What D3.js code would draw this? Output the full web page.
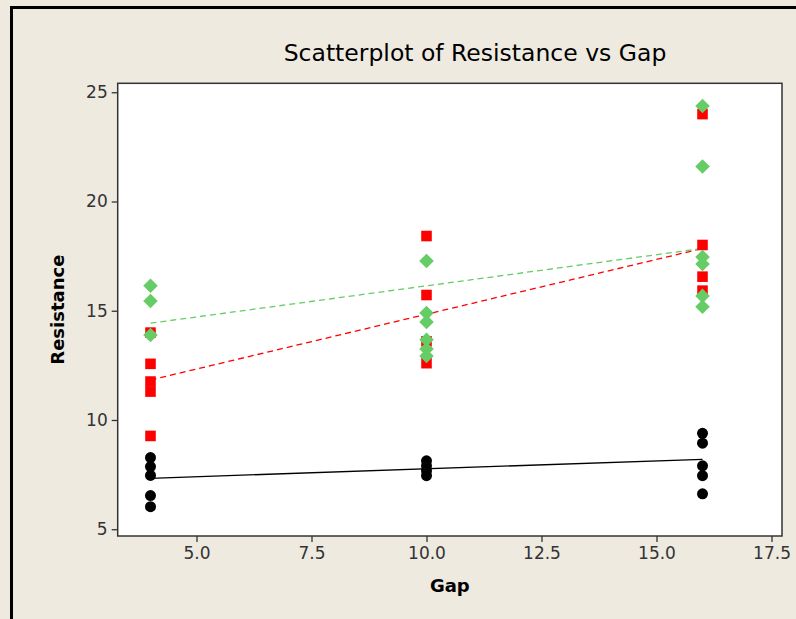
<!DOCTYPE html>
<html>
<head>
<meta charset="utf-8">
<script src="https://cdn.jsdelivr.net/npm/d3@7"></script>
<style>
  body { margin: 0; background: #eeeae0; }
  svg { display: block; }
</style>
</head>
<body>
<div id="chart"></div>
<script>
let w = 796;
let h = 619;

// data
let gaps = [4, 10, 16];
// resistance values at each gap (one inner array per gap)
let blackRes = [
  [8.28, 7.87, 7.46, 6.54, 6.03],
  [8.13, 7.9, 7.68, 7.45],
  [9.39, 8.94, 7.9, 7.45, 6.62]
];
let redRes = [
  [14.0, 12.57, 11.76, 11.3, 9.27],
  [18.42, 15.72, 13.6, 12.6],
  [24.0, 18.01, 16.56, 15.92]
];
let greenRes = [
  [16.14, 15.45, 13.89],
  [17.28, 14.9, 14.49, 13.67, 13.25, 12.93],
  [24.37, 21.6, 17.46, 17.14, 15.68, 15.18]
];
// fitted lines, value at first and last gap
let fitGap = [4, 16];
let blackFit = [7.33, 8.2];
let redFit = [11.83, 17.85];
let greenFit = [14.43, 17.85];

let xTicks = [5, 7.5, 10, 12.5, 15, 17.5];
let yTicks = [5, 10, 15, 20, 25];

let viz = d3.select("#chart")
  .append("svg")
  .attr("width", w)
  .attr("height", h)
  .style("background-color", "#eeeae0");

// outer frame of the picture
viz.append("path")
  .attr("d", "M11.5,619 L11.5,7.5 L796,7.5")
  .attr("fill", "none")
  .attr("stroke", "black")
  .attr("stroke-width", 3);

let xScale = d3.scaleLinear().domain([3.287, 17.728]).range([117.7, 782]);
let yScale = d3.scaleLinear().domain([4.69, 25.41]).range([536, 83.3]);

// plot area
viz.append("rect")
  .attr("x", xScale.range()[0])
  .attr("y", yScale.range()[1])
  .attr("width", xScale.range()[1] - xScale.range()[0])
  .attr("height", yScale.range()[0] - yScale.range()[1])
  .attr("fill", "white")
  .attr("stroke", "#333")
  .attr("stroke-width", 1.5);

let xAxis = d3.axisBottom(xScale)
  .tickValues(xTicks)
  .tickFormat(d3.format(".1f"))
  .tickSize(6)
  .tickPadding(5);
let xAxisGroup = viz.append("g")
  .attr("transform", "translate(0," + yScale.range()[0] + ")")
  .call(xAxis);

let yAxis = d3.axisLeft(yScale)
  .tickValues(yTicks)
  .tickSize(6)
  .tickPadding(4);
let yAxisGroup = viz.append("g")
  .attr("transform", "translate(" + xScale.range()[0] + ",0)")
  .call(yAxis);

[xAxisGroup, yAxisGroup].forEach(g => {
  g.select(".domain").remove();
  g.selectAll(".tick line").attr("stroke", "#333").attr("stroke-width", 1.3);
  g.selectAll(".tick text")
    .attr("fill", "#333")
    .style("font-family", "DejaVu Sans")
    .style("font-size", "17px");
});

// fitted lines
let line = d3.line()
  .x((d, i) => xScale(fitGap[i]))
  .y(d => yScale(d));

viz.append("path").datum(blackFit)
  .attr("d", line).attr("fill", "none")
  .attr("stroke", "black").attr("stroke-width", 1.3);
viz.append("path").datum(redFit)
  .attr("d", line).attr("fill", "none")
  .attr("stroke", "#ff0000").attr("stroke-width", 1.3)
  .attr("stroke-dasharray", "6,4");
viz.append("path").datum(greenFit)
  .attr("d", line).attr("fill", "none")
  .attr("stroke", "#66cc66").attr("stroke-width", 1.3)
  .attr("stroke-dasharray", "6,4");

// flatten nested values into points
function points(res) {
  let out = [];
  res.forEach((vals, i) => vals.forEach(v => out.push({gap: gaps[i], res: v})));
  return out;
}

let circle = d3.symbol(d3.symbolCircle, 95);
let square = d3.symbol(d3.symbolSquare, 112);
let diamond = d3.symbol(d3.symbolSquare, 106);

viz.selectAll(".black").data(points(blackRes)).enter()
  .append("path")
  .attr("class", "black")
  .attr("d", circle)
  .attr("transform", d => "translate(" + xScale(d.gap) + "," + yScale(d.res) + ")")
  .attr("fill", "black");

viz.selectAll(".red").data(points(redRes)).enter()
  .append("path")
  .attr("class", "red")
  .attr("d", square)
  .attr("transform", d => "translate(" + xScale(d.gap) + "," + yScale(d.res) + ")")
  .attr("fill", "#ff0000");

viz.selectAll(".green").data(points(greenRes)).enter()
  .append("path")
  .attr("class", "green")
  .attr("d", diamond)
  .attr("transform", d => "translate(" + xScale(d.gap) + "," + yScale(d.res) + ") rotate(45)")
  .attr("fill", "#66cc66");

// titles
viz.append("text")
  .attr("x", 475)
  .attr("y", 61)
  .attr("text-anchor", "middle")
  .style("font-family", "DejaVu Sans")
  .style("font-size", "23.5px")
  .attr("fill", "black")
  .text("Scatterplot of Resistance vs Gap");

viz.append("text")
  .attr("x", (xScale.range()[0] + xScale.range()[1]) / 2)
  .attr("y", 592)
  .attr("text-anchor", "middle")
  .style("font-family", "DejaVu Sans")
  .style("font-weight", "bold")
  .style("font-size", "18px")
  .text("Gap");

viz.append("text")
  .attr("transform", "translate(64," + (yScale.range()[0] + yScale.range()[1]) / 2 + ") rotate(-90)")
  .attr("text-anchor", "middle")
  .style("font-family", "DejaVu Sans")
  .style("font-weight", "bold")
  .style("font-size", "18px")
  .text("Resistance");
</script>
</body>
</html>
